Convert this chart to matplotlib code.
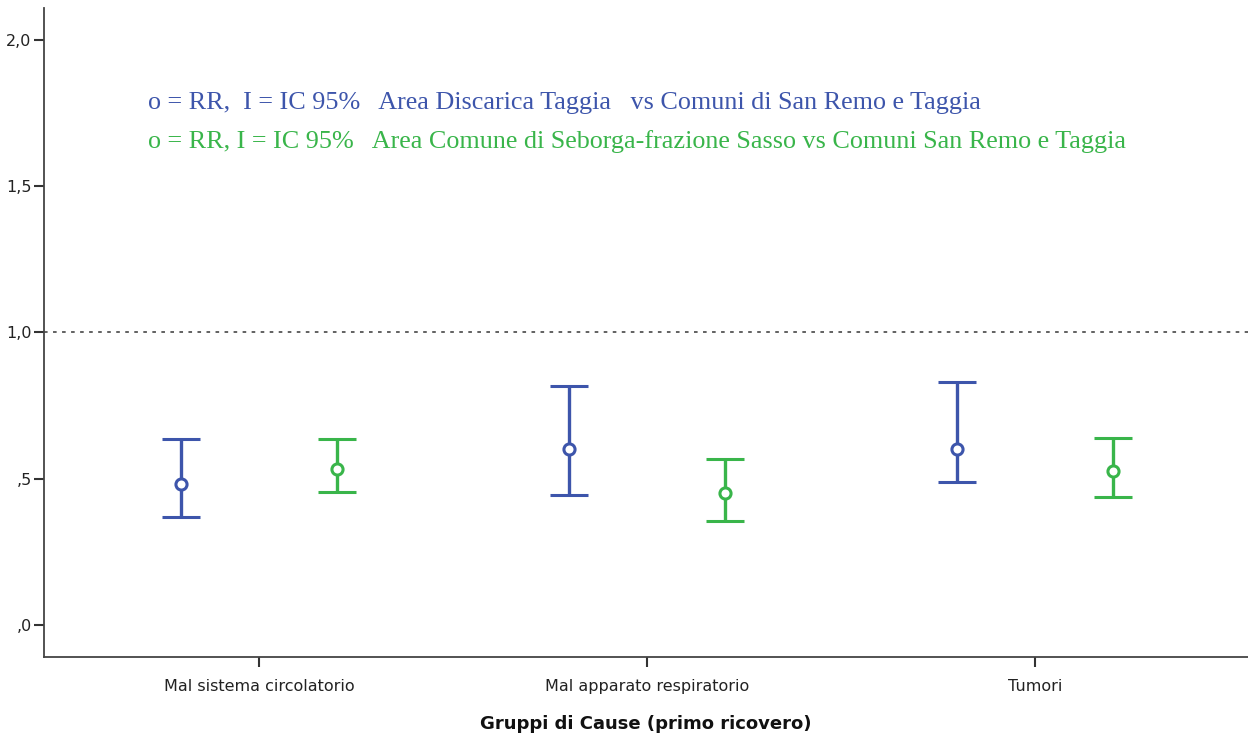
import matplotlib.pyplot as plt
import numpy as np

categories = ['Mal sistema circolatorio', 'Mal apparato respiratorio', 'Tumori']

# Area Discarica Taggia (blu)
rr_blue = [0.483, 0.603, 0.603]
low_blue = [0.370, 0.445, 0.490]
high_blue = [0.634, 0.818, 0.829]

# Area Seborga-frazione Sasso (verde)
rr_green = [0.534, 0.452, 0.527]
low_green = [0.455, 0.356, 0.438]
high_green = [0.634, 0.568, 0.640]

ytick_vals = [0.0, 0.5, 1.0, 1.5, 2.0]
ytick_labels = [',0', ',5', '1,0', '1,5', '2,0']

blue = '#3d55ab'
green = '#39b54a'

fig = plt.figure(figsize=(12.48, 7.38), dpi=100)
ax = fig.add_axes([0.0353, 0.1098, 0.9647, 0.8794])

x = np.arange(len(categories))
for vals, lo, hi, col, off in [(rr_blue, low_blue, high_blue, blue, -0.2),
                               (rr_green, low_green, high_green, green, 0.2)]:
    vals = np.array(vals)
    err = [vals - np.array(lo), np.array(hi) - vals]
    ax.errorbar(x + off, vals, yerr=err, fmt='o', color=col, ecolor=col,
                elinewidth=2.4, capsize=14, capthick=2.8,
                markersize=8, markerfacecolor='white', markeredgewidth=2.2, zorder=3)

ax.axhline(1.0, color='#555555', linestyle=(0, (2, 3)), linewidth=1.3, zorder=1)

ax.set_xlim(-0.554, 2.549)
ax.set_ylim(-0.11, 2.11)
ax.set_xticks(x)
ax.set_xticklabels(categories, fontsize=11.5, color='#222222')
ax.set_yticks(ytick_vals)
ax.set_yticklabels(ytick_labels, fontsize=11.5, color='#222222')
ax.tick_params(axis='both', length=7, width=1.5, color='#333333')
ax.tick_params(axis='x', pad=9)
ax.tick_params(axis='y', pad=2)

for s in ['top', 'right']:
    ax.spines[s].set_visible(False)
for s in ['left', 'bottom']:
    ax.spines[s].set_linewidth(1.3)
    ax.spines[s].set_color('#444444')

ax.set_xlabel('Gruppi di Cause (primo ricovero)', fontsize=13, fontweight='bold',
              labelpad=15, color='#111111')

fig.text(148 / 1248, 1 - 103 / 738,
         'o = RR,  I = IC 95%   Area Discarica Taggia   vs Comuni di San Remo e Taggia',
         color=blue, fontsize=18.8, family='Liberation Serif', va='center')
fig.text(148 / 1248, 1 - 142 / 738,
         'o = RR, I = IC 95%   Area Comune di Seborga-frazione Sasso vs Comuni San Remo e Taggia',
         color=green, fontsize=18.8, family='Liberation Serif', va='center')

fig.savefig('out.png', dpi=100)
